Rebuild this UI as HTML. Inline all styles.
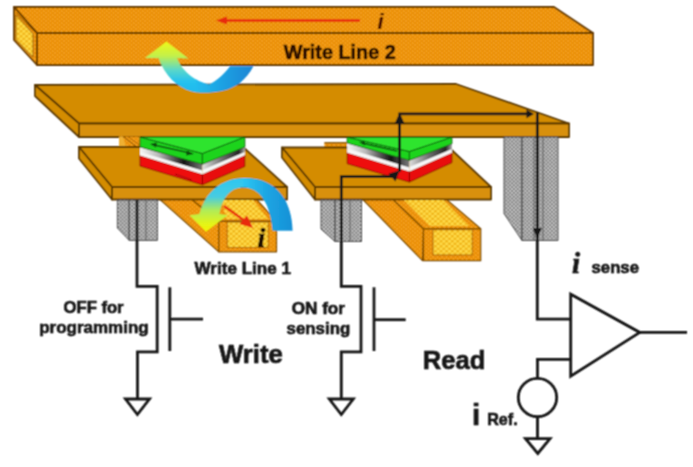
<!DOCTYPE html>
<html><head><meta charset="utf-8">
<style>
html,body{margin:0;padding:0;background:#fff;}
body{width:693px;height:467px;overflow:hidden;}
svg{display:block;}
text{font-family:"Liberation Sans",sans-serif;font-weight:bold;fill:#161616;stroke:#161616;stroke-width:0.65px;}
.ser{font-family:"Liberation Serif",serif;font-style:italic;font-weight:bold;}
</style></head>
<body>
<svg width="693" height="467" viewBox="0 0 693 467">
<defs>
  <pattern id="dotO" width="4.5" height="4" patternUnits="userSpaceOnUse">
    <rect width="4.5" height="4" fill="#E68A02"/>
    <circle cx="1.1" cy="1" r="1.05" fill="#F9A622"/>
    <circle cx="3.35" cy="3" r="1.05" fill="#F9A622"/>
  </pattern>
  <pattern id="dotY" width="5.6" height="5" patternUnits="userSpaceOnUse">
    <rect width="5.6" height="5" fill="#F0B414"/>
    <circle cx="1.4" cy="1.25" r="1.6" fill="#FFDC4A"/>
    <circle cx="4.2" cy="3.75" r="1.6" fill="#FFDC4A"/>
  </pattern>
  <pattern id="hexG" width="3.8" height="3.8" patternUnits="userSpaceOnUse">
    <rect width="3.8" height="3.8" fill="#747474"/>
    <circle cx="0.95" cy="0.95" r="1.15" fill="#CACACA"/>
    <circle cx="2.85" cy="2.85" r="1.15" fill="#CACACA"/>
  </pattern>
  <linearGradient id="shL" gradientUnits="userSpaceOnUse" x1="140" y1="0" x2="203" y2="0">
    <stop offset="0" stop-color="#000" stop-opacity="0"/>
    <stop offset="0.3" stop-color="#000" stop-opacity="0.25"/>
    <stop offset="0.7" stop-color="#000" stop-opacity="0.92"/>
    <stop offset="1" stop-color="#000" stop-opacity="0.5"/>
  </linearGradient>
  <linearGradient id="shR" gradientUnits="userSpaceOnUse" x1="203" y1="0" x2="245" y2="0">
    <stop offset="0" stop-color="#000" stop-opacity="0.1"/>
    <stop offset="0.45" stop-color="#000" stop-opacity="0.55"/>
    <stop offset="0.85" stop-color="#000" stop-opacity="0.85"/>
    <stop offset="1" stop-color="#000" stop-opacity="0.3"/>
  </linearGradient>
  <linearGradient id="shL2" gradientUnits="userSpaceOnUse" x1="347" y1="0" x2="409.4" y2="0">
    <stop offset="0" stop-color="#000" stop-opacity="0"/>
    <stop offset="0.3" stop-color="#000" stop-opacity="0.25"/>
    <stop offset="0.7" stop-color="#000" stop-opacity="0.92"/>
    <stop offset="1" stop-color="#000" stop-opacity="0.5"/>
  </linearGradient>
  <linearGradient id="shR2" gradientUnits="userSpaceOnUse" x1="409.4" y1="0" x2="452" y2="0">
    <stop offset="0" stop-color="#000" stop-opacity="0.1"/>
    <stop offset="0.45" stop-color="#000" stop-opacity="0.55"/>
    <stop offset="0.85" stop-color="#000" stop-opacity="0.85"/>
    <stop offset="1" stop-color="#000" stop-opacity="0.3"/>
  </linearGradient>
  <linearGradient id="arrTopL" gradientUnits="userSpaceOnUse" x1="0" y1="42" x2="0" y2="88">
    <stop offset="0" stop-color="#ECF81A"/>
    <stop offset="0.3" stop-color="#C4F048"/>
    <stop offset="0.6" stop-color="#5CD8C8"/>
    <stop offset="0.85" stop-color="#26C2EE"/>
    <stop offset="1" stop-color="#20BCEE"/>
  </linearGradient>
  <linearGradient id="arrTopR" gradientUnits="userSpaceOnUse" x1="196" y1="0" x2="254" y2="0">
    <stop offset="0" stop-color="#22BCEE"/>
    <stop offset="0.4" stop-color="#1EA4E4"/>
    <stop offset="1" stop-color="#1C84D4"/>
  </linearGradient>
  <linearGradient id="arrBotL" gradientUnits="userSpaceOnUse" x1="0" y1="178" x2="0" y2="232">
    <stop offset="0" stop-color="#2CC6F2"/>
    <stop offset="0.35" stop-color="#48CCE0"/>
    <stop offset="0.6" stop-color="#B0EC58"/>
    <stop offset="0.85" stop-color="#E4F418"/>
    <stop offset="1" stop-color="#F2F200"/>
  </linearGradient>
  <linearGradient id="arrBotR" gradientUnits="userSpaceOnUse" x1="243" y1="0" x2="293" y2="0">
    <stop offset="0" stop-color="#2CC6F2"/>
    <stop offset="0.5" stop-color="#1CA4E2"/>
    <stop offset="1" stop-color="#1690D6"/>
  </linearGradient>
  <clipPath id="cTopL"><rect x="0" y="0" width="196.5" height="120"/></clipPath>
  <clipPath id="cTopR"><rect x="196" y="0" width="100" height="120"/></clipPath>
  <clipPath id="cBotL"><rect x="150" y="150" width="93.5" height="100"/></clipPath>
  <clipPath id="cBotR"><rect x="243" y="150" width="100" height="100"/></clipPath>
<filter id="soft" x="0" y="0" width="693" height="467" filterUnits="userSpaceOnUse"><feConvolveMatrix order="3" kernelMatrix="1 2 1 2 4 2 1 2 1" divisor="16" edgeMode="duplicate" preserveAlpha="false"/></filter>
</defs>
<g filter="url(#soft)">

<!-- ===== Write Line 2 ===== -->
<g stroke="#643800" stroke-width="1.8" stroke-linejoin="round">
  <polygon points="14,7 554,7 593,33 37,33" fill="url(#dotO)"/>
  <polygon points="37,33 593,33 593,65 37,65" fill="url(#dotO)"/>
  <polygon points="14,7 37,33 37,65 14,40" fill="url(#dotO)"/>
</g>
<polygon points="16,15 33,34 33,57 16,39.5" fill="url(#dotY)" stroke="#8A5000" stroke-width="0.8"/>
<line x1="16" y1="13" x2="35" y2="32" stroke="#8A5000" stroke-width="1"/>
<line x1="222" y1="20.5" x2="360" y2="20.5" stroke="#E82A0A" stroke-width="2.4"/>
<polygon points="216,20.5 227,16.5 227,24.5" fill="#E82A0A"/>
<text x="377.5" y="29" font-size="22" style="font-style:italic;fill:#4a0c00;stroke:#4a0c00;stroke-width:0.2px">i</text>
<text x="283.8" y="59" font-size="19.5" textLength="112" lengthAdjust="spacingAndGlyphs" style="fill:#2a1000;stroke:#2a1000">Write Line 2</text>

<!-- ===== Big plate ===== -->
<g stroke="#5A3800" stroke-width="1.8" stroke-linejoin="round" fill="#D48C06">
  <polygon points="35,85 456,84 569,123.5 79,123.5"/>
  <polygon points="79,123.5 569,123.5 569,137 79,137" fill="#D89008"/>
  <polygon points="35,85 79,123.5 79,137 35,96"/>
</g>

<!-- ===== Top U arrow ===== -->
<path d="M158.2,58 L145,58 L166.4,41.6 L188.5,58.5 L177.2,58 C180,68 193,81 209,84.5 C218,80 225,73 230,66.2 L253.4,66.2 C246,80 236,88 222,91 C212,93 200,93.5 192,91.5 C177,87.5 165,76 158.2,57.5 Z" fill="url(#arrTopL)" clip-path="url(#cTopL)"/>
<path d="M158.2,58 L145,58 L166.4,41.6 L188.5,58.5 L177.2,58 C180,68 193,81 209,84.5 C218,80 225,73 230,66.2 L253.4,66.2 C246,80 236,88 222,91 C212,93 200,93.5 192,91.5 C177,87.5 165,76 158.2,57.5 Z" fill="url(#arrTopR)" clip-path="url(#cTopR)"/>

<!-- ===== WL1 far ends (between plates) ===== -->
<polygon points="119.2,136.5 140,136.5 140,147 119.2,147" fill="url(#dotO)"/>
<polygon points="119.2,136.5 123,136.5 126,147 119.2,147" fill="#F0B030"/>
<line x1="123" y1="136.5" x2="137" y2="147" stroke="#7A4A00" stroke-width="1"/>
<line x1="127.5" y1="136.5" x2="140" y2="145" stroke="#9A5A00" stroke-width="0.8"/>
<polygon points="324.4,142.6 347,142.6 347,148 324.4,148" fill="url(#dotO)"/>
<line x1="324.4" y1="142.8" x2="347" y2="142.8" stroke="#6A4000" stroke-width="1.2"/>

<!-- ===== Small plates ===== -->
<g stroke="#5A3800" stroke-width="1.8" stroke-linejoin="round" fill="#D48C06">
  <polygon points="79,147 243,147 287,187 112,187"/>
  <polygon points="112,187 287,187 287,199.5 112,199.5" fill="#D89008"/>
  <polygon points="79,147 112,187 112,199.5 79,158.5"/>
  <polygon points="282,147.5 449,147.5 491,187 315,187"/>
  <polygon points="315,187 491,187 491,199.5 315,199.5" fill="#D89008"/>
  <polygon points="282,147.5 315,187 315,199.5 282,157.5"/>
</g>

<!-- ===== MTJ left ===== -->
<g stroke-linejoin="round">
  <polygon points="140,155.5 202.4,174.2 202.4,184.8 140,166" fill="#EE1010" stroke="#8a0000" stroke-width="0.9"/>
  <polygon points="202.4,174.2 244.8,155.3 244.8,166.5 202.4,184.8" fill="#E80A0A" stroke="#8a0000" stroke-width="0.9"/>
  <polygon points="140,146.9 202.4,164.2 202.4,174.2 140,155.5" fill="#F6F6F6"/>
  <polygon points="140,146.9 202.4,164.2 202.4,170.5 140,152" fill="url(#shL)"/>
  <polygon points="202.4,164.2 244.8,147 244.8,155.3 202.4,174.2" fill="#F6F6F6"/>
  <polygon points="202.4,164.2 244.8,147 244.8,152 202.4,170" fill="url(#shR)"/>
  <polygon points="140,137 202.4,153.5 202.4,164.2 140,146.9" fill="#1ED41E" stroke="#0a5a0a" stroke-width="0.9"/>
  <polygon points="202.4,153.5 244.8,137 244.8,147 202.4,164.2" fill="#1ED41E" stroke="#0a5a0a" stroke-width="0.9"/>
  <polygon points="140,137 244.8,137 202.4,153.5" fill="#2EE42E" stroke="#0a5a0a" stroke-width="0.9"/>
</g>
<line x1="154" y1="145" x2="190" y2="153" stroke="#0a4a0a" stroke-width="1.4"/>
<polygon points="150,144 157,142.5 156,147.5" fill="#0a4a0a"/>
<polygon points="194,154 187,150.5 186,155.5" fill="#0a4a0a"/>
<line x1="175" y1="174" x2="192" y2="180" stroke="#900" stroke-width="1"/>

<!-- ===== MTJ right ===== -->
<g stroke-linejoin="round">
  <polygon points="347.2,152.7 409.4,171.5 409.4,182.1 347.2,163.7" fill="#EE1010" stroke="#8a0000" stroke-width="0.9"/>
  <polygon points="409.4,171.5 451.9,152.7 451.9,162.7 409.4,182.1" fill="#E80A0A" stroke="#8a0000" stroke-width="0.9"/>
  <polygon points="347.2,143 409.4,160.3 409.4,171.5 347.2,152.7" fill="#F6F6F6"/>
  <polygon points="347.2,143 409.4,160.3 409.4,167.5 347.2,148.5" fill="url(#shL2)"/>
  <polygon points="409.4,160.3 451.9,143.8 451.9,152.7 409.4,171.5" fill="#F6F6F6"/>
  <polygon points="409.4,160.3 451.9,143.8 451.9,149 409.4,167" fill="url(#shR2)"/>
  <polygon points="347.2,137.2 409.4,151.5 409.4,160.3 347.2,143" fill="#1ED41E" stroke="#0a5a0a" stroke-width="0.9"/>
  <polygon points="409.4,151.5 451.9,137.2 451.9,143.8 409.4,160.3" fill="#1ED41E" stroke="#0a5a0a" stroke-width="0.9"/>
  <polygon points="347.2,137.2 451.9,137.2 409.4,151.5" fill="#2EE42E" stroke="#0a5a0a" stroke-width="0.9"/>
</g>
<line x1="362" y1="143" x2="397" y2="151" stroke="#0a4a0a" stroke-width="1.4"/>
<polygon points="359,142 365,141 364.5,145.5" fill="#0a4a0a"/>

<!-- ===== Pillars ===== -->
<g stroke="#4a4a4a" stroke-width="1">
  <polygon points="504,137 522,137 522,240.5 504,213.5" fill="url(#hexG)"/>
  <polygon points="522,137 558,137 558,240.5 522,240.5" fill="url(#hexG)"/>
  <polygon points="117.4,200 129.2,200 129.2,240.4 117.4,228" fill="url(#hexG)"/>
  <polygon points="129.2,200 157.4,200 157.4,240.4 129.2,240.4" fill="url(#hexG)"/>
  <polygon points="321,200 335,200 335,241.5 321,229" fill="url(#hexG)"/>
  <polygon points="335,200 361.5,200 361.5,241.5 335,241.5" fill="url(#hexG)"/>
</g>

<g stroke="#5a5a5a" stroke-width="1.2" opacity="0.8">
  <line x1="522" y1="138" x2="522" y2="240"/>
  <line x1="534" y1="138" x2="534" y2="240"/>
  <line x1="543" y1="138" x2="543" y2="240"/>
  <line x1="129.2" y1="201" x2="129.2" y2="240"/>
  <line x1="146" y1="201" x2="146" y2="240"/>
  <line x1="335" y1="201" x2="335" y2="241"/>
  <line x1="350" y1="201" x2="350" y2="241"/>
</g>

<!-- ===== WL1 bars ===== -->
<g stroke="#7A4A00" stroke-width="1.2" stroke-linejoin="round">
  <polygon points="160.6,200 192.5,200 218.8,221.3 218.8,251.8" fill="url(#dotO)"/>
  <polygon points="192.5,200 257,200 276.5,221.3 218.8,221.3" fill="url(#dotO)"/>
  <polygon points="218.8,221.3 276.5,221.3 276.5,251.8 218.8,251.8" fill="url(#dotO)"/>
  <polygon points="222,200 253,200 268,219 226,219" fill="url(#dotY)" stroke="none"/>
  <polygon points="227.2,222 268.3,222 268.3,247.5 227.2,247.5" fill="url(#dotY)" stroke="#A05800" stroke-width="0.8"/>

  <polygon points="363.4,200 393.5,200 423.5,228.8 422.5,260.7" fill="url(#dotO)"/>
  <polygon points="393.5,200 447,200 480.7,228.8 423.5,228.8" fill="url(#dotO)"/>
  <polygon points="423.5,228.8 480.7,228.8 480.7,260.7 423.5,260.7" fill="url(#dotO)"/>
  <polygon points="403.8,200 443.2,200 469.4,226 430,226" fill="url(#dotY)" stroke="none"/>
  <polygon points="432.9,229.7 472.3,229.7 472.3,255 432.9,255" fill="url(#dotY)" stroke="#A05800" stroke-width="0.8"/>
</g>
<line x1="224" y1="206" x2="247" y2="222.5" stroke="#E82A0A" stroke-width="2.4"/>
<polygon points="253,228 239.5,224 247,215.5" fill="#E82A0A"/>
<text x="257.5" y="246.5" class="ser" font-size="28" style="fill:#1a0800;stroke:#1a0800">i</text>

<!-- ===== Bottom arc arrow ===== -->
<path d="M199.5,214 L189.5,215.2 L206,231.7 L227.6,215.2 L219.5,214 C222,198 230,188 242,187.5 C258,187 270,200 272.6,230.8 L292.6,230.8 C292,200 276,178 245,178 C222,178 205,192 199.5,214 Z" fill="url(#arrBotL)" clip-path="url(#cBotL)"/>
<path d="M199.5,214 L189.5,215.2 L206,231.7 L227.6,215.2 L219.5,214 C222,198 230,188 242,187.5 C258,187 270,200 272.6,230.8 L292.6,230.8 C292,200 276,178 245,178 C222,178 205,192 199.5,214 Z" fill="url(#arrBotR)" clip-path="url(#cBotR)"/>

<!-- ===== Circuit lines ===== -->
<g stroke="#141414" stroke-width="2.8" fill="none" stroke-linejoin="miter">
  <!-- left transistor -->
  <polyline points="137,200 137,286.4 157.2,286.4 157.2,351.9 137.5,351.9 137.5,399"/>
  <line x1="169.8" y1="287.3" x2="169.8" y2="351"/>
  <line x1="169.8" y1="319.1" x2="203" y2="319.1"/>
  <polygon points="125.5,399 149.5,399 137.4,414.5"/>
  <!-- right transistor -->
  <polyline points="341.3,399 341.3,351.9 361,351.9 361,286.4 341.3,286.4 341.3,176.6 391,176.6 394,174"/>
  <line x1="374" y1="287.3" x2="374" y2="351"/>
  <line x1="374" y1="319.7" x2="405.7" y2="319.7"/>
  <polygon points="329.3,399 353.3,399 341.3,414.5"/>
  <!-- read path -->
  <polyline points="399.6,172 399.6,118"/>
  <polyline points="398.4,113.9 531,113.9"/>
  <polyline points="537.3,112.7 537.3,319.2 570.7,319.2"/>
  <polygon points="570.7,294.2 570.7,376.1 639.8,332.4"/>
  <line x1="639.8" y1="332.4" x2="687" y2="332.4"/>
  <polyline points="570.7,359.4 537.5,359.4 537.5,378.3"/>
  <circle cx="537.5" cy="397.5" r="19.2"/>
  <line x1="537.5" y1="416.7" x2="537.5" y2="438.7"/>
  <polygon points="525.5,438.7 550,438.7 537.8,453.5"/>
</g>
<g fill="#141414">
  <polygon points="399.6,112.5 394.6,124 404.6,124"/>
  <polygon points="534,113.9 526.5,109.5 526.5,118.3"/>
  <polygon points="537.3,239 532.8,228 541.8,228"/>
  <polygon points="399.5,170.5 388.5,173.8 395.5,181.5"/>
</g>

<!-- ===== Labels ===== -->
<text x="194.5" y="274" font-size="17" textLength="96.5" lengthAdjust="spacingAndGlyphs">Write Line 1</text>
<text x="63.6" y="312.8" font-size="17" textLength="60" lengthAdjust="spacingAndGlyphs">OFF for</text>
<text x="39.2" y="333.3" font-size="17" textLength="109.5" lengthAdjust="spacingAndGlyphs">programming</text>
<text x="291.7" y="313.8" font-size="17" textLength="53.3" lengthAdjust="spacingAndGlyphs">ON for</text>
<text x="286.6" y="333.5" font-size="17" textLength="63.6" lengthAdjust="spacingAndGlyphs">sensing</text>
<text x="219" y="363.2" font-size="26" textLength="63.8" lengthAdjust="spacingAndGlyphs">Write</text>
<text x="422.8" y="368.5" font-size="25.5" textLength="62.5" lengthAdjust="spacingAndGlyphs">Read</text>
<text x="572" y="272.5" class="ser" font-size="29">i</text>
<text x="591.5" y="272.7" font-size="16.5" textLength="47.5" lengthAdjust="spacingAndGlyphs">sense</text>
<text x="472" y="424.8" font-size="29.5">i</text>
<text x="487.2" y="424.8" font-size="16.3" textLength="30.5" lengthAdjust="spacingAndGlyphs">Ref.</text>
</g>
</svg>
</body></html>
